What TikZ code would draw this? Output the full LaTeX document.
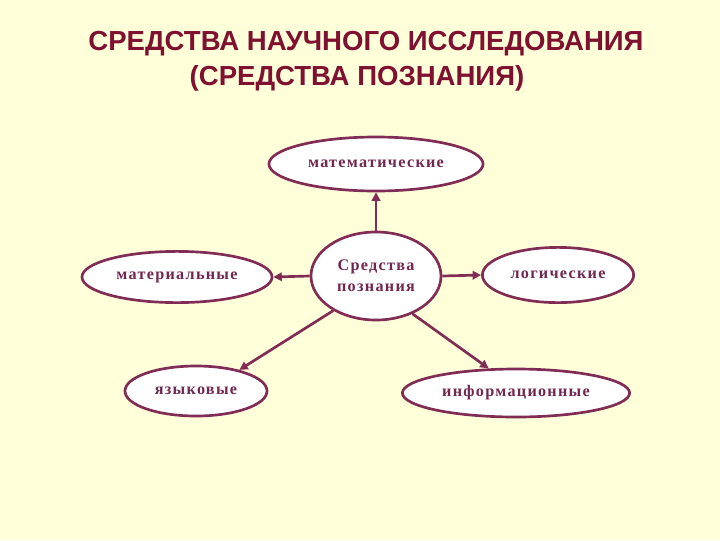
\documentclass[tikz,border=0pt]{standalone}
\usepackage{fontspec}
\setmainfont{Liberation Serif}
\newfontfamily\titlefont{Liberation Sans}
\newfontfamily\nodefont[LetterSpace=8]{Liberation Serif}
\usepackage{tikz}
\usetikzlibrary{arrows.meta,calc,positioning,shapes.geometric}
\definecolor{sredbg}{RGB}{255,255,217}
\definecolor{sredtitle}{RGB}{128,16,48}
\definecolor{sredline}{RGB}{128,44,84}
\definecolor{sredtext}{RGB}{112,40,80}

\begin{document}
\begin{tikzpicture}[
      x=0.025cm, y=-0.025cm,
      meansbox/.style={ellipse, draw=sredline, fill=white, line width=1.9pt, inner sep=0pt, font=\nodefont\bfseries\fontsize{11.5}{15}\selectfont, text=sredtext, align=center},
      meanslink/.style={draw=sredline, line width=1.9pt, -{Triangle[length=6pt,width=6pt]}},
      titleline/.style={anchor=base, text=sredtitle, font=\titlefont\bfseries\fontsize{19.6}{22}\selectfont}
    ]
      \fill[sredbg] (0,0) rectangle (720,540);
      \useasboundingbox (0,0) rectangle (720,540);

      % Title
      \node[titleline] (title1) at (366,50) {СРЕДСТВА НАУЧНОГО ИССЛЕДОВАНИЯ};
      \node[titleline] (title2) at (357,85) {(СРЕДСТВА ПОЗНАНИЯ)};

      % Hub
      \node[meansbox, minimum width=3.25cm, minimum height=2.2cm] (hub) at (376,276) {Средства\\познания};

      % Kinds of means
      \node[meansbox, minimum width=5.35cm, minimum height=1.35cm] (math) at (376,164) {математические};
      \node[meansbox, minimum width=4.75cm, minimum height=1.28cm] (matr) at (177,277) {материальные};
      \node[meansbox, minimum width=3.78cm, minimum height=1.38cm] (logic) at (558,275) {логические};
      \node[meansbox, minimum width=3.55cm, minimum height=1.25cm] (lang) at (196,391) {языковые};
      \node[meansbox, minimum width=5.68cm, minimum height=1.2cm] (info) at (516,393) {информационные};

      % Links
      \draw[meanslink] (hub.north) -- (math.south);
      \draw[meanslink] (hub.west) -- (matr.east);
      \draw[meanslink] (hub.east) -- (logic.west);
      \draw[meanslink] (hub.219) -- (lang.26);
      \draw[meanslink] (hub.314) -- (info.138);
    \end{tikzpicture}
\end{document}
